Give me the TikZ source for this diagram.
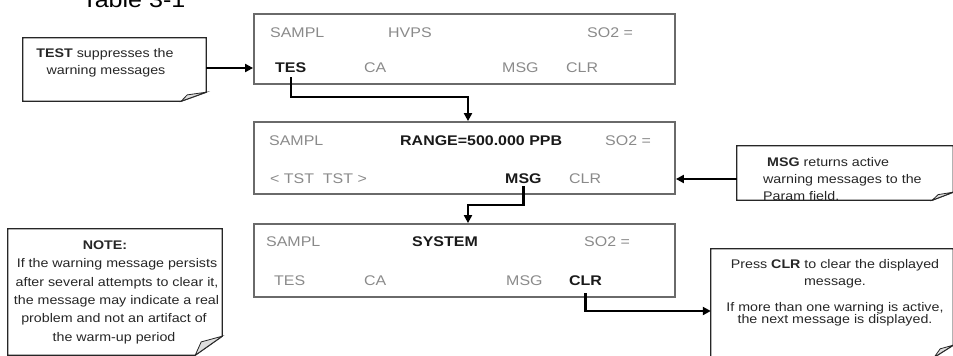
\documentclass[tikz,border=0pt]{standalone}
\usepackage{fontspec}
\setmainfont[FakeStretch=1.14]{Liberation Sans}
\usetikzlibrary{arrows.meta}
\definecolor{dgray}{HTML}{8A8A8A}
\definecolor{boxgray}{HTML}{6A6A6A}
\newcommand\foldbox[3]{%
  \draw[cbox] (#1.north west) -- (#1.north east) -- ([yshift=#3]#1.south east)
     -- ([xshift=-#2]#1.south east) -- (#1.south west) -- cycle;
  \draw[cbox, line width=0.8pt, fill=gray!25] ([xshift=-#2]#1.south east)
     -- ([xshift=-#2+6pt,yshift=#3*0.7]#1.south east) -- ([yshift=#3]#1.south east) -- cycle;}
\begin{document}
\begin{tikzpicture}[x=1pt,y=-1pt,
  disp/.style={draw=boxgray, line width=1.8pt, inner sep=0pt, minimum width=421pt},
  cnode/.style={inner sep=0pt},
  cbox/.style={draw=black!85, line width=1.3pt, line join=miter},
  dt/.style={anchor=base west, inner sep=0pt, text=dgray, font=\fontsize{14}{16}\selectfont},
  db/.style={anchor=base west, inner sep=0pt, text=black!90, font=\fontsize{14}{16}\selectfont\bfseries},
  ct/.style={anchor=base, inner sep=0pt, text=black!85, font=\fontsize{12.5}{15}\selectfont},
  ctl/.style={ct, anchor=base west},
  conn/.style={line width=2.4pt, -{Triangle[length=8pt,width=8pt]}}]
\useasboundingbox (0,0) rectangle (953,356);
\clip (0,0) rectangle (953,356);

% title (cut off at the top)
\node[anchor=base west, inner sep=0pt, font=\fontsize{22}{24}\selectfont] (title) at (82,8) {Table 3-1};

% displays
\node[disp, minimum height=70pt] (d1) at (464.5,49) {};
\node[disp, minimum height=72pt] (d2) at (464.5,158) {};
\node[disp, minimum height=73pt] (d3) at (464.5,260.5) {};

\node[dt] (d1a) at (270,37) {SAMPL};
\node[dt] (d1b) at (388,37) {HVPS};
\node[dt] (d1c) at (587,37) {SO2 =};
\node[db] (tes1) at (275,72) {TES};
\node[dt] (ca1) at (364,72) {CA};
\node[dt] (msg1) at (502,72) {MSG};
\node[dt] (clr1) at (566,72) {CLR};

\node[dt] (d2a) at (269,145) {SAMPL};
\node[db] (d2b) at (400,145) {RANGE=500.000 PPB};
\node[dt] (d2c) at (605,145) {SO2 =};
\node[dt] (tst2) at (270,183) {< TST\ \ TST >};
\node[db] (msg2) at (505,183) {MSG};
\node[dt] (clr2) at (569,183) {CLR};

\node[dt] (d3a) at (266,246) {SAMPL};
\node[db] (d3b) at (412,246) {SYSTEM};
\node[dt] (d3c) at (584,246) {SO2 =};
\node[dt] (tes3) at (274,285) {TES};
\node[dt] (ca3) at (364,285) {CA};
\node[dt] (msg3) at (506,285) {MSG};
\node[db] (clr3) at (569,285) {CLR};

% callouts
\node[cnode, minimum width=183pt, minimum height=63pt] (n1) at (114.5,69.5) {};
\foldbox{n1}{25pt}{9pt}
\node[ct] (n1a) at (105,57) {\textbf{TEST} suppresses the};
\node[ct] (n1b) at (106,74) {warning messages};

\node[cnode, minimum width=216pt, minimum height=54pt] (n3) at (845,173) {};
\foldbox{n3}{21pt}{8pt}
\node[ctl] (n3a) at (767,166) {\textbf{MSG} returns active};
\node[ctl] (n3b) at (763,183) {warning messages to the};
\node[ctl] (n3c) at (763,200) {Param field.};

\node[cnode, minimum width=242pt, minimum height=108pt] (n4) at (832,303) {};
\foldbox{n4}{19pt}{12pt}
\node[ct] (n4a) at (835,268) {Press \textbf{CLR} to clear the displayed};
\node[ct] (n4b) at (835,285.5) {message.};
\node[ct] (n4c) at (835,311.5) {If more than one warning is active,};
\node[ct] (n4d) at (835,323.5) {the next message is displayed.};

\node[cnode, minimum width=214pt, minimum height=126pt] (n5) at (115,292) {};
\foldbox{n5}{27pt}{19pt}
\node[ct] (n5a) at (105,249.5) {\textbf{NOTE:}};
\node[ct] (n5b) at (117,267.8) {If the warning message persists};
\node[ct] (n5c) at (117,286.1) {after several attempts to clear it,};
\node[ct] (n5d) at (116.5,304.4) {the message may indicate a real};
\node[ct] (n5e) at (114,322.7) {problem and not an artifact of};
\node[ct] (n5f) at (114,341) {the warm-up period};

% connectors
\coordinate (c1) at (468,97);
\coordinate (c2) at (468,205);
\coordinate (c3) at (581,311);
\draw[conn] ([yshift=-5pt]tes1.south) |- (c1) -- (c1 |- d2.north);
\draw[conn] ([yshift=-3pt]msg2.south) |- (c2) -- (c2 |- d3.north);
\draw[conn] ([yshift=-8pt]clr3.south) |- (c3 -| n4.west);
\coordinate (a1) at ([yshift=1.5pt]n1.east);
\draw[conn] (a1) -- (a1 -| d1.west);
\coordinate (a2) at ([yshift=-6pt]n3.west);
\draw[conn] (a2) -- (a2 -| d2.east);
\end{tikzpicture}
\end{document}
